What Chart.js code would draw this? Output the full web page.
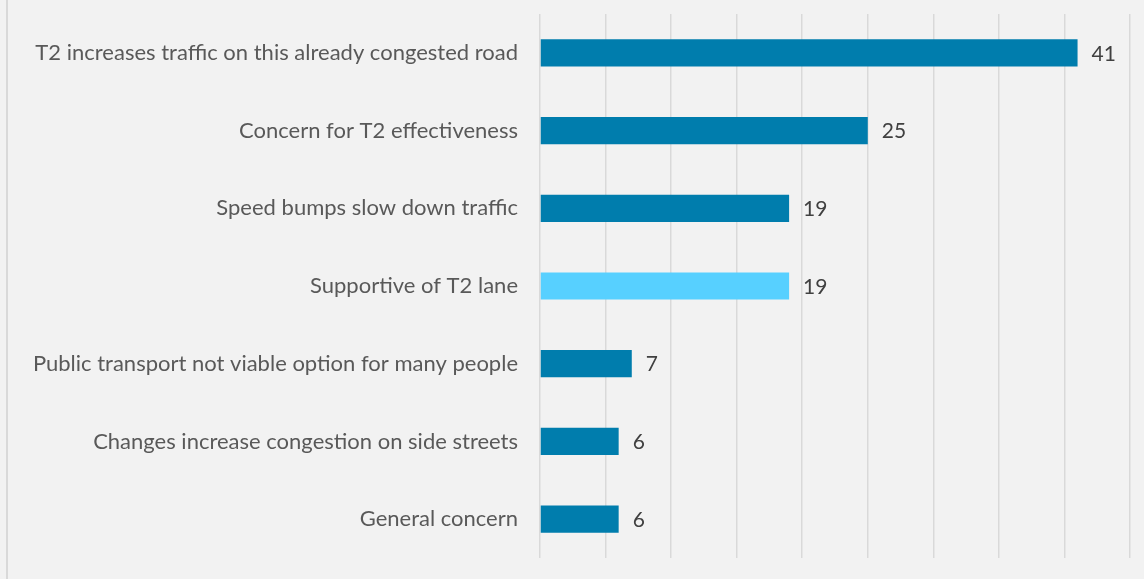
<!DOCTYPE html>
<html><head><meta charset="utf-8">
<script src="https://cdn.jsdelivr.net/npm/chart.js@4/dist/chart.umd.min.js"></script>
<style>
html,body{margin:0;padding:0;background:#f2f2f2;}
#wrap{position:relative;width:1144px;height:579px;}
#frame{position:absolute;left:6px;top:0;width:2px;height:579px;background:#d9d9d9;}
canvas{position:absolute;left:0;top:0;}
</style></head>
<body><div id="wrap"><div id="frame"></div><canvas id="c" width="1144" height="579"></canvas></div>
<script>
const categories = [
  "T2 increases traffic on this already congested road",
  "Concern for T2 effectiveness",
  "Speed bumps slow down traffic",
  "Supportive of T2 lane",
  "Public transport not viable option for many people",
  "Changes increase congestion on side streets",
  "General concern"
];
const counts = [41, 25, 19, 19, 7, 6, 6];
const barColors = ["#007dad","#007dad","#007dad","#57d0ff","#007dad","#007dad","#007dad"];
const axisMax = 45;
const axisStep = 5;

const FONT = "Lato, 'Open Sans', sans-serif";

const valueLabels = {
  id: 'valueLabels',
  afterDatasetsDraw(chart) {
    const ctx = chart.ctx;
    const meta = chart.getDatasetMeta(0);
    ctx.save();
    ctx.fillStyle = '#404040';
    ctx.font = '21px ' + FONT;
    ctx.textBaseline = 'middle';
    ctx.textAlign = 'left';
    meta.data.forEach((bar, i) => {
      ctx.fillText(String(counts[i]), bar.x + 14, bar.y + 1);
    });
    ctx.restore();
  }
};

new Chart(document.getElementById('c'), {
  type: 'bar',
  data: {
    labels: categories,
    datasets: [{
      data: counts,
      backgroundColor: barColors,
      borderWidth: 0,
      categoryPercentage: 1,
      barPercentage: 0.35
    }]
  },
  options: {
    indexAxis: 'y',
    responsive: false,
    animation: false,
    layout: { padding: { left: 0, right: 14, top: 14, bottom: 21 } },
    plugins: { legend: { display: false }, tooltip: { enabled: false } },
    scales: {
      x: {
        min: 0, max: axisMax,
        ticks: { display: false, stepSize: axisStep },
        grid: { color: '#d9d9d9', lineWidth: 1.5, drawTicks: false },
        border: { display: false },
        afterFit(s) { s.height = 0; s.paddingLeft = 0; s.paddingRight = 0; }
      },
      y: {
        grid: { display: false, drawTicks: false },
        border: { display: false },
        ticks: { color: '#595959', font: { family: FONT, size: 22 }, padding: 22 },
        afterFit(s) { s.width = 540; s.paddingTop = 0; s.paddingBottom = 0; }
      }
    }
  },
  plugins: [valueLabels]
});
</script>
</body></html>
